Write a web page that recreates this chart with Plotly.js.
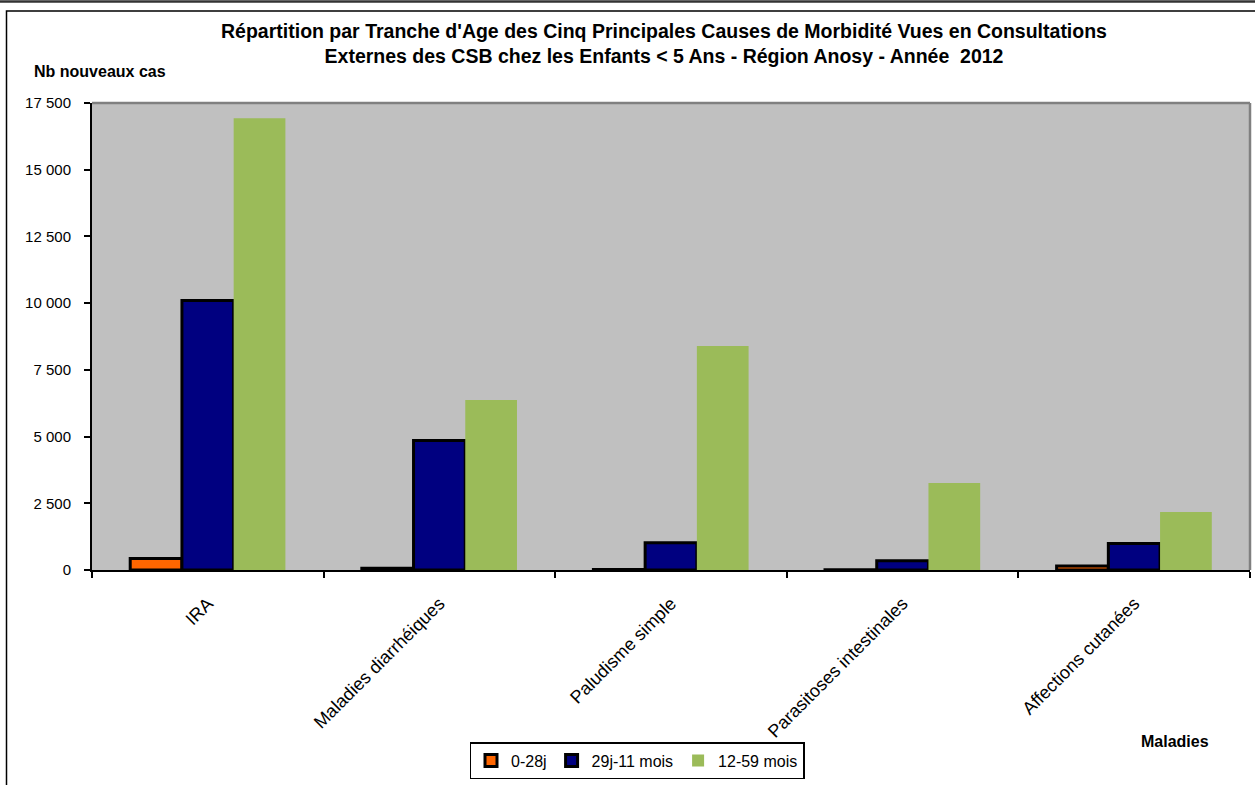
<!DOCTYPE html>
<html>
<head>
<meta charset="utf-8">
<script src="https://cdn.plot.ly/plotly-3.0.1.min.js"></script>
<style>
html,body{margin:0;padding:0;background:#fff;}
#chart{width:1255px;height:785px;}
</style>
</head>
<body>
<div id="chart"></div>
<script>
// Data
const categories = ["IRA", "Maladies diarrhéiques", "Paludisme simple", "Parasitoses intestinales", "Affections cutanées"];
const seriesNames = ["0-28j", "29j-11 mois", "12-59 mois"];
const values_0_28j = [430, 70, 20, 5, 150];
const values_29j_11m = [10100, 4850, 1020, 350, 990];
const values_12_59m = [16930, 6370, 8390, 3260, 2170];
const yTicks = [0, 2500, 5000, 7500, 10000, 12500, 15000, 17500];

const W = 1255, H = 785;
const L = 92, R = 5, T = 103, B = 215;
const pw = W - L - R, ph = H - T - B;
const px = x => (x - L) / pw;
const py = y => (H - B - y) / ph;

const FONT = "Arial, 'Liberation Sans', sans-serif";

const traces = [
  {type: "bar", name: seriesNames[0], x: categories, y: values_0_28j,
   marker: {color: "#FF6600", line: {color: "#000000", width: 3}}},
  {type: "bar", name: seriesNames[1], x: categories, y: values_29j_11m,
   marker: {color: "#000080", line: {color: "#000000", width: 3}}},
  {type: "bar", name: seriesNames[2], x: categories, y: values_12_59m,
   marker: {color: "#9BBB59", line: {width: 0}}}
];

const layout = {
  width: W, height: H,
  margin: {l: L, r: R, t: T, b: B, pad: 0},
  paper_bgcolor: "#FFFFFF",
  plot_bgcolor: "#C0C0C0",
  font: {family: FONT, color: "#000000", size: 15},
  separators: ", ",
  barmode: "group",
  bargap: 0.33,
  bargroupgap: 0,
  showlegend: true,
  title: {
    text: "<b>Répartition par Tranche d'Age des Cinq Principales Causes de Morbidité Vues en Consultations<br>Externes des CSB chez les Enfants < 5 Ans - Région Anosy - Année  2012</b>",
    font: {family: FONT, size: 19.5, color: "#000000"},
    x: 664 / W, xanchor: "center",
    y: 1 - 38 / H, yanchor: "top"
  },
  xaxis: {
    type: "category",
    showline: true, linecolor: "#000000", linewidth: 2,
    ticks: "outside", tickson: "boundaries", ticklen: 6, tickwidth: 2, tickcolor: "#000000",
    tickangle: -45,
    ticklabelstandoff: 14,
    tickfont: {family: FONT, size: 18, color: "#000000"},
    showgrid: false, zeroline: false,
    fixedrange: true
  },
  yaxis: {
    range: [0, 17500],
    tickvals: yTicks,
    tickformat: ",d",
    separatethousands: true,
    showline: true, linecolor: "#000000", linewidth: 2,
    ticks: "outside", ticklen: 6, tickwidth: 2, tickcolor: "#000000",
    ticklabelstandoff: 10,
    tickfont: {family: FONT, size: 15, color: "#000000"},
    showgrid: false, zeroline: false,
    fixedrange: true
  },
  legend: {
    orientation: "h",
    x: px(637), xanchor: "center",
    y: py(742), yanchor: "top",
    bordercolor: "#000000", borderwidth: 1.5,
    bgcolor: "#FFFFFF",
    font: {family: FONT, size: 16, color: "#000000"},
    itemwidth: 30,
    traceorder: "normal"
  },
  annotations: [
    {text: "<b>Nb nouveaux cas</b>", xref: "paper", yref: "paper",
     x: px(32), y: py(72), xanchor: "left", yanchor: "middle", showarrow: false,
     font: {family: FONT, size: 16, color: "#000000"}},
    {text: "<b>Maladies</b>", xref: "paper", yref: "paper",
     x: px(1175), y: py(741), xanchor: "center", yanchor: "middle", showarrow: false,
     font: {family: FONT, size: 16, color: "#000000"}}
  ],
  shapes: [
    // top strip line
    {type: "line", xref: "paper", yref: "paper", x0: px(0), x1: px(1255), y0: py(1.5), y1: py(1.5),
     line: {color: "#333333", width: 2.5}},
    // outer chart frame (right/bottom edges beyond view)
    {type: "rect", xref: "paper", yref: "paper", x0: px(6.5), x1: px(1262), y0: py(11), y1: py(800),
     line: {color: "#000000", width: 1.5}, fillcolor: "rgba(0,0,0,0)"},
    // plot area top/right border
    {type: "line", xref: "paper", yref: "paper", x0: 0, x1: 1, y0: 1, y1: 1,
     line: {color: "#808080", width: 2.5}},
    {type: "line", xref: "paper", yref: "paper", x0: 1, x1: 1, y0: 0, y1: 1,
     line: {color: "#808080", width: 2.5}}
  ]
};

Plotly.newPlot("chart", traces, layout, {displayModeBar: false, staticPlot: true});
</script>
</body>
</html>
